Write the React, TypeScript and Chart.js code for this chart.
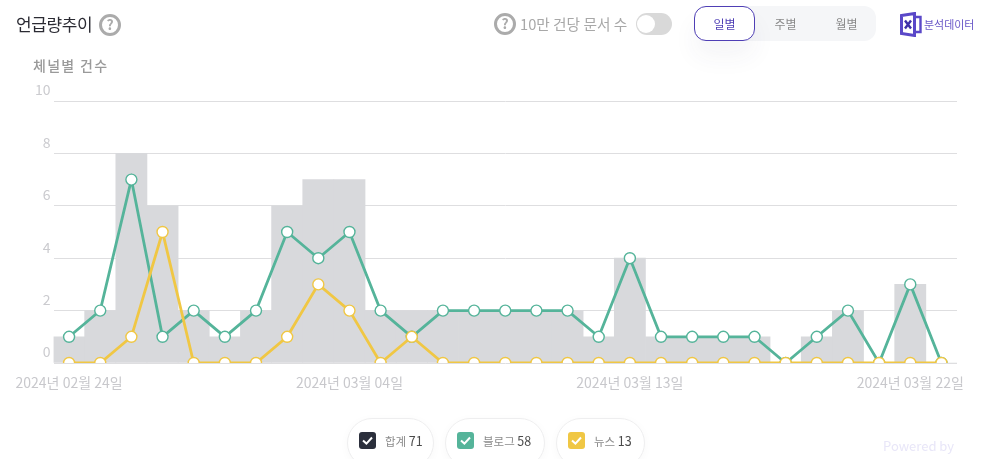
import { useEffect, useRef } from 'react';
import { Chart, registerables, type ChartConfiguration } from 'chart.js';

Chart.register(...registerables);

const KR_FONT = '"Noto Sans CJK KR", "Noto Sans", sans-serif';

const dates = [
    '2024년 02월 24일', '2024년 02월 25일', '2024년 02월 26일', '2024년 02월 27일', '2024년 02월 28일',
    '2024년 02월 29일', '2024년 03월 01일', '2024년 03월 02일', '2024년 03월 03일', '2024년 03월 04일',
    '2024년 03월 05일', '2024년 03월 06일', '2024년 03월 07일', '2024년 03월 08일', '2024년 03월 09일',
    '2024년 03월 10일', '2024년 03월 11일', '2024년 03월 12일', '2024년 03월 13일', '2024년 03월 14일',
    '2024년 03월 15일', '2024년 03월 16일', '2024년 03월 17일', '2024년 03월 18일', '2024년 03월 19일',
    '2024년 03월 20일', '2024년 03월 21일', '2024년 03월 22일', '2024년 03월 23일',
];
const totals = [1, 2, 8, 6, 2, 1, 2, 6, 7, 7, 2, 2, 2, 2, 2, 2, 2, 1, 4, 1, 1, 1, 1, 0, 1, 2, 0, 3, 0];
const blog = [1, 2, 7, 1, 2, 1, 2, 5, 4, 5, 2, 1, 2, 2, 2, 2, 2, 1, 4, 1, 1, 1, 1, 0, 1, 2, 0, 3, 0];
const news = [0, 0, 1, 5, 0, 0, 0, 1, 3, 2, 0, 1, 0, 0, 0, 0, 0, 0, 0, 0, 0, 0, 0, 0, 0, 0, 0, 0, 0];
const legendItems = [
    { name: '합계', count: 71, color: '#2b2f3c', left: 347, width: 87 },
    { name: '블로그', count: 58, color: '#55b49a', left: 445, width: 100 },
    { name: '뉴스', count: 13, color: '#f0c744', left: 556, width: 89 },
];
const periods = ['일별', '주별', '월별'];

function lineDataset(label: string, data: number[], color: string, order: number) {
    return {
        type: 'line' as const,
        label,
        data,
        order,
        borderColor: color,
        borderWidth: 2.8,
        pointRadius: 5.5,
        pointBorderWidth: 1.4,
        pointBackgroundColor: '#fff',
        pointBorderColor: color,
        tension: 0,
        clip: 0,
    };
}

const config: ChartConfiguration = {
    type: 'bar',
    data: {
        labels: dates,
        datasets: [
            {
                type: 'bar',
                label: '합계',
                data: totals,
                order: 3,
                backgroundColor: '#d8d9dc',
                barPercentage: 1,
                categoryPercentage: 1,
            },
            lineDataset('블로그', blog, '#55b49a', 2),
            lineDataset('뉴스', news, '#f0c744', 1),
        ] as any,
    },
    options: {
        responsive: false,
        animation: false,
        layout: { padding: { left: 0, right: 30, top: 101, bottom: 56 } },
        plugins: { legend: { display: false }, title: { display: false }, tooltip: { enabled: false } },
        scales: {
            x: {
                offset: true,
                afterFit: (scale: any) => {
                    scale.height = 40;
                },
                grid: { display: false },
                border: { display: false },
                ticks: {
                    autoSkip: false,
                    maxRotation: 0,
                    padding: 3,
                    color: '#c8c8cc',
                    font: { family: KR_FONT, size: 14 },
                    callback: (_v: any, i: number) => (i % 9 === 0 ? dates[i] : ''),
                },
            },
            y: {
                min: 0,
                max: 10,
                afterFit: (scale: any) => {
                    scale.width = 53.5;
                },
                grid: { color: '#dedee0', lineWidth: 1, drawTicks: false },
                border: { display: false },
                ticks: {
                    stepSize: 2,
                    padding: 3,
                    labelOffset: -11,
                    color: '#cbcbcf',
                    font: { family: KR_FONT, size: 14 },
                },
            },
        },
    },
};

function ChartCanvas() {
    const canvasRef = useRef<HTMLCanvasElement>(null);

    useEffect(() => {
        if (!canvasRef.current) return;
        const chart = new Chart(canvasRef.current, config);
        return () => chart.destroy();
    }, []);

    return <canvas ref={canvasRef} width={987} height={459} style={{ position: 'absolute', left: 0, top: 0 }} />;
}

function Help({ left, top }: { left: number; top: number }) {
    return (
        <div
            style={{
                position: 'absolute',
                left,
                top,
                width: 22,
                height: 22,
                boxSizing: 'border-box',
                border: '3px solid #ababab',
                borderRadius: '50%',
                color: '#ababab',
                fontSize: 14,
                fontWeight: 700,
                lineHeight: '15px',
                textAlign: 'center',
            }}
        >
            ?
        </div>
    );
}

function Label({ left, top, size, color, children, extra }: any) {
    return (
        <div style={{ position: 'absolute', left, top, fontSize: size, color, lineHeight: '20px', whiteSpace: 'nowrap', ...extra }}>
            {children}
        </div>
    );
}

export default function App() {
    return (
        <div
            style={{
                position: 'fixed',
                left: 0,
                top: 0,
                width: 987,
                height: 459,
                overflow: 'hidden',
                background: '#fff',
                fontFamily: KR_FONT,
            }}
        >
            <ChartCanvas />

            <Label left={16} top={14} size={17} color="#2b2b33" extra={{ letterSpacing: -0.4 }}>언급량추이</Label>
            <Help left={99} top={14} />
            <Label left={33} top={55} size={14} color="#9a9a9a" extra={{ fontWeight: 500, letterSpacing: 1.3 }}>체널별 건수</Label>

            <Help left={494} top={13} />
            <Label left={520} top={14} size={14.7} color="#a8a8a8">10만 건당 문서 수</Label>
            <div style={{ position: 'absolute', left: 636, top: 13, width: 36, height: 22, borderRadius: 11, background: '#d9d9d9' }}>
                <div style={{ position: 'absolute', left: 1, top: 2, width: 18, height: 18, borderRadius: '50%', background: '#fff' }} />
            </div>

            <div style={{ position: 'absolute', left: 694, top: 6, width: 182, height: 35, borderRadius: 12, background: '#f5f6f8' }} />
            <div
                style={{
                    position: 'absolute',
                    left: 694,
                    top: 6,
                    width: 61,
                    height: 35,
                    boxSizing: 'border-box',
                    borderRadius: 12,
                    border: '1px solid #4f3fb5',
                    background: '#fff',
                    boxShadow: '0 16px 24px rgba(60,60,90,0.05)',
                }}
            />
            {periods.map((p, i) => (
                <Label
                    key={p}
                    left={694 + i * 61}
                    top={14}
                    size={12}
                    color={i === 0 ? '#4f3fb5' : '#8b8b8b'}
                    extra={{ width: 61, textAlign: 'center' }}
                >
                    {p}
                </Label>
            ))}

            <svg width="22" height="25" viewBox="0 0 22 25" style={{ position: 'absolute', left: 900, top: 12 }}>
                <path d="M1.5 3.5 L14.5 1.5 V23.5 L1.5 21.5 Z" fill="#fff" stroke="#5a48c8" strokeWidth="3" />
                <path d="M15 5 H20.5 V20 H15" fill="none" stroke="#5a48c8" strokeWidth="2.4" />
                <path d="M5 8.5 L11 16.5 M11 8.5 L5 16.5" stroke="#3f31a8" strokeWidth="2.4" />
            </svg>
            <Label left={924} top={14} size={11} color="#6a58c8" extra={{ letterSpacing: -0.05 }}>분석데이터</Label>

            {legendItems.map((item) => (
                <div
                    key={item.name}
                    style={{
                        position: 'absolute',
                        left: item.left,
                        top: 418,
                        width: item.width,
                        height: 50,
                        boxSizing: 'border-box',
                        border: '1px solid #eeeeef',
                        borderRadius: 25,
                        background: '#fff',
                        boxShadow: '0 2px 10px rgba(0,0,0,0.03)',
                    }}
                >
                    <svg width="17" height="17" viewBox="0 0 17 17" style={{ position: 'absolute', left: 11, top: 13 }}>
                        <rect width="17" height="17" rx="3" fill={item.color} />
                        <path d="M4 8.5 L7.4 11.6 L13 5.5" fill="none" stroke="#fff" strokeWidth="2" />
                    </svg>
                    <Label left={37} top={12} size={11.5} color="#8b8b8b">
                        {item.name} <span style={{ color: '#4a4a4a', fontSize: 12.5 }}>{item.count}</span>
                    </Label>
                </div>
            ))}

            <Label left={883} top={436} size={13} color="#e8e6f8">Powered by</Label>
        </div>
    );
}
